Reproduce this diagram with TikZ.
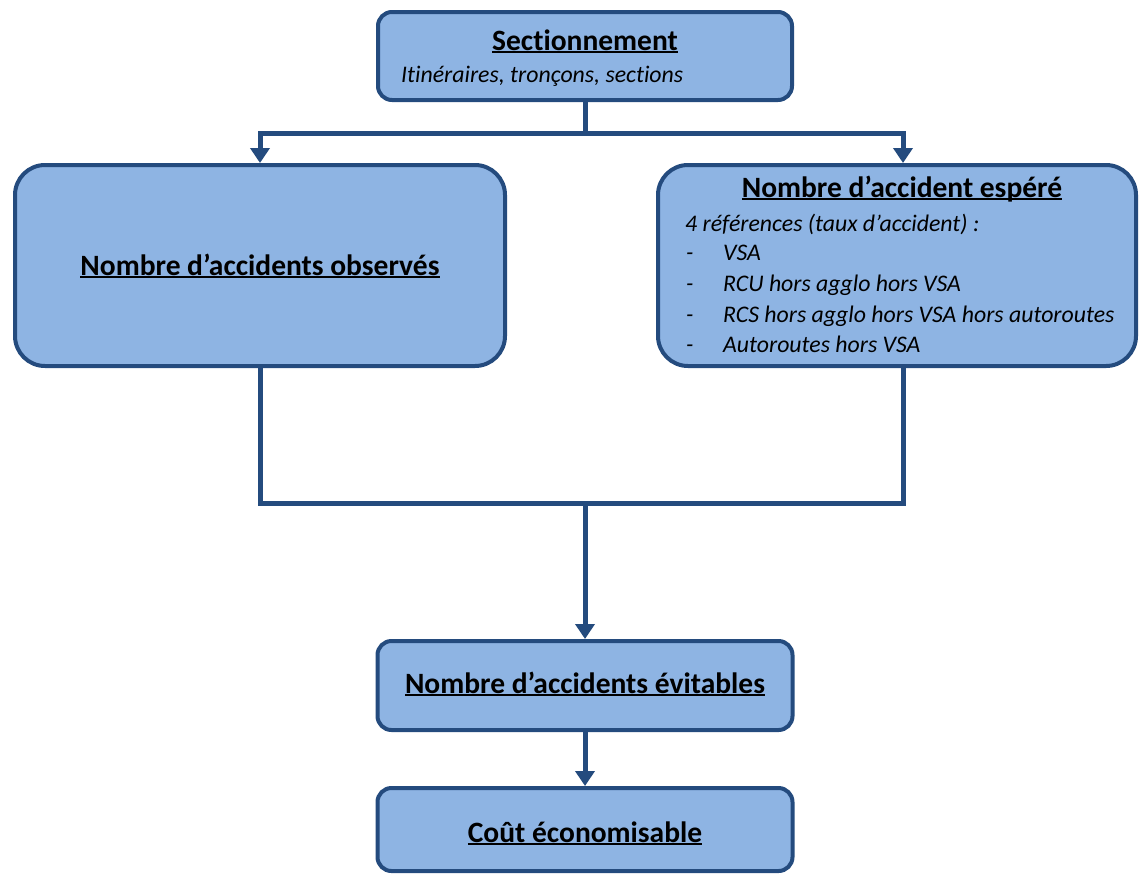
\documentclass[tikz,border=0pt]{standalone}
\usepackage{fontspec}
\setmainfont{Carlito}[RawFeature={-liga}]
\usetikzlibrary{arrows.meta}
\definecolor{boxfill}{HTML}{8EB4E3}
\definecolor{boxline}{HTML}{244B7E}
% underline at a fixed depth, crossing descenders
\newcommand\ulin[1]{\setbox0\hbox{#1}\rlap{\rule[-0.1em]{\wd0}{0.07em}}\box0}
\begin{document}
\begin{tikzpicture}[x=1pt,y=-1pt,
  box/.style={draw=boxline, line width=4pt, fill=boxfill, inner sep=0pt},
  smallbox/.style={box, rounded corners=14pt},
  bigbox/.style={box, rounded corners=30pt},
  link/.style={draw=boxline, line width=5pt},
  arr/.style={link, -{Triangle[length=15pt,width=19pt]}},
  title/.style={font=\fontsize{29.5}{34}\selectfont\bfseries, anchor=base, inner sep=0pt},
  note/.style={font=\fontsize{23.8}{28}\selectfont\itshape, anchor=base west, inner sep=0pt}]
\useasboundingbox (0,0) rectangle (1139,876);

% boxes
\node[smallbox, minimum width=414pt, minimum height=88pt] (sec) at (585,56) {};
\node[bigbox, minimum width=490pt, minimum height=201pt] (obs) at (260,265.5) {};
\node[bigbox, minimum width=478pt, minimum height=201pt] (esp) at (897,265.5) {};
\node[smallbox, minimum width=415pt, minimum height=89pt] (evi) at (585,685.5) {};
\node[smallbox, minimum width=415pt, minimum height=83pt] (cout) at (585,829.5) {};

% texts
\node[title] (secT) at (585,50) {\ulin{Sectionnement}};
\node[note] (secN) at (401,82) {Itinéraires, tronçons, sections};
\node[title] (obsT) at (260,275) {\ulin{Nombre d’accidents observés}};
\node[title] (espT) at (902,197) {\ulin{Nombre d’accident espéré}};
\node[note] (espN) at (685,231) {4 références (taux d’accident) :};
\foreach \y/\t [count=\i] in {260/VSA, 291/RCU hors agglo hors VSA,
    322/RCS hors agglo hors VSA hors autoroutes, 352/Autoroutes hors VSA} {
  \node[note] (d\i) at (686,\y) {-};
  \node[note] (it\i) at (723,\y) {\t};
}
\node[title] (eviT) at (585,693) {\ulin{Nombre d’accidents évitables}};
\node[title] (coutT) at (585,842) {\ulin{Coût économisable}};

% connectors
\coordinate (split) at (585,133);
\coordinate (merge) at (585,503);
\draw[link] (sec.south) -- (split);
\draw[arr] (split) -| (obs.north);
\draw[arr] (split) -| ([xshift=6pt]esp.north);
\draw[link] (obs.south) |- (merge) -| ([xshift=6pt]esp.south);
\draw[arr] (merge) -- (evi.north);
\draw[arr] (evi.south) -- (cout.north);
\end{tikzpicture}
\end{document}
